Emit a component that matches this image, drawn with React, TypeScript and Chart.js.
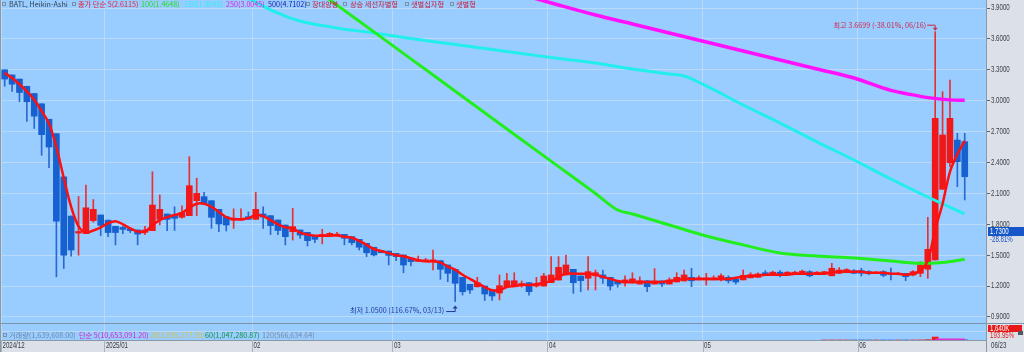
import React, { useEffect, useRef } from 'react';
import { Chart, registerables } from 'chart.js';

Chart.register(...registerables);

// ---------- trading days (categories) ----------
const decDays = [11, 12, 13, 16, 17, 18, 19, 20, 23, 24, 26, 27, 30, 31];
const janDays = [2, 3, 6, 7, 8, 10, 13, 14, 15, 16, 17, 21, 22, 23, 24, 27, 28, 29, 30, 31];
const febDays = [3, 4, 5, 6, 7, 10, 11, 12, 13, 14, 18, 19, 20, 21, 24, 25, 26, 27, 28];
const marDays = [3, 4, 5, 6, 7, 10, 11, 12, 13, 14, 17, 18, 19, 20, 21, 24, 25, 26, 27, 28, 31];
const aprDays = [1, 2, 3, 4, 7, 8, 9, 10, 11, 14, 15, 16, 17, 21, 22, 23, 24, 25, 28, 29, 30];
const mayDays = [1, 2, 5, 6, 7, 8, 9, 12, 13, 14, 15, 16, 19, 20, 21, 22, 23, 27, 28, 29, 30];
const junDays = [2, 3, 4, 5, 6, 9, 10, 11, 12, 13, 16, 17, 18, 20, 23];
const monthKeys = ['2024/12', '2025/01', '2025/02', '2025/03', '2025/04', '2025/05', '2025/06'];
const monthTickLabels = ['2024/12', '2025/01', '02', '03', '04', '05', '06'];

// ---------- Heikin-Ashi candles ----------
const haOpen = [
  3.30, 3.25, 3.21, 3.14, 3.07, 2.97, 2.82, 2.68, 2.26, 1.88,
  1.715, 1.71, 1.835, 1.89, 1.84, 1.78, 1.77, 1.757, 1.745, 1.722,
  1.738, 1.848, 1.90, 1.89, 1.868, 1.884, 2.029, 2.068, 2.029, 1.945,
  1.874, 1.84, 1.84, 1.874, 1.848, 1.90, 1.884, 1.842, 1.793, 1.728,
  1.745, 1.722, 1.686, 1.68, 1.686, 1.695, 1.702, 1.68, 1.654, 1.615,
  1.577, 1.544, 1.54, 1.518, 1.502, 1.47, 1.44, 1.44, 1.44, 1.447,
  1.405, 1.363, 1.285, 1.217, 1.194, 1.20, 1.162, 1.133, 1.194, 1.20,
  1.21, 1.233, 1.20, 1.20, 1.233, 1.259, 1.308, 1.363, 1.298, 1.276,
  1.30, 1.308, 1.285, 1.25, 1.23, 1.23, 1.22, 1.252, 1.22, 1.25,
  1.22, 1.24, 1.25, 1.285, 1.26, 1.26, 1.26, 1.26, 1.285, 1.266,
  1.26, 1.28, 1.285, 1.33, 1.32, 1.335, 1.32, 1.32, 1.32, 1.34,
  1.32, 1.325, 1.30, 1.324, 1.33, 1.35, 1.35, 1.34, 1.325, 1.34,
  1.325, 1.315, 1.324, 1.308, 1.324, 1.364, 1.453, 2.14, 2.398, 2.618,
  2.602,
];
const haHigh = [
  3.30, 3.25, 3.21, 3.14, 3.07, 2.97, 2.82, 2.68, 2.26, 1.88,
  2.07, 2.18, 2.04, 1.89, 1.84, 1.78, 1.78, 1.757, 1.745, 1.78,
  2.31, 2.084, 1.90, 1.97, 1.98, 2.457, 2.247, 2.11, 2.029, 1.945,
  1.874, 1.95, 1.95, 1.92, 2.11, 1.97, 1.884, 1.842, 1.793, 1.955,
  1.745, 1.722, 1.686, 1.751, 1.72, 1.722, 1.702, 1.68, 1.654, 1.615,
  1.577, 1.544, 1.54, 1.518, 1.502, 1.47, 1.492, 1.47, 1.55, 1.447,
  1.405, 1.363, 1.285, 1.217, 1.285, 1.20, 1.162, 1.308, 1.324, 1.33,
  1.25, 1.233, 1.285, 1.324, 1.486, 1.486, 1.502, 1.363, 1.298, 1.486,
  1.356, 1.356, 1.285, 1.25, 1.30, 1.33, 1.29, 1.252, 1.37, 1.25,
  1.28, 1.33, 1.356, 1.373, 1.30, 1.324, 1.30, 1.32, 1.30, 1.28,
  1.356, 1.33, 1.33, 1.35, 1.345, 1.35, 1.34, 1.345, 1.356, 1.35,
  1.34, 1.345, 1.421, 1.38, 1.37, 1.36, 1.373, 1.35, 1.34, 1.35,
  1.376, 1.33, 1.324, 1.35, 1.437, 1.868, 3.6699, 3.088, 3.20, 2.683,
  2.683,
];
const haLow = [
  3.14, 3.09, 2.99, 2.80, 2.73, 2.47, 2.35, 1.29, 1.37, 1.49,
  1.50, 1.71, 1.82, 1.69, 1.68, 1.60, 1.71, 1.72, 1.60, 1.70,
  1.738, 1.793, 1.738, 1.74, 1.86, 1.884, 1.884, 1.99, 1.761, 1.728,
  1.735, 1.76, 1.84, 1.848, 1.848, 1.76, 1.70, 1.70, 1.60, 1.647,
  1.664, 1.589, 1.622, 1.61, 1.68, 1.69, 1.60, 1.60, 1.55, 1.486,
  1.492, 1.524, 1.405, 1.447, 1.33, 1.395, 1.44, 1.44, 1.356, 1.266,
  1.243, 1.05, 1.113, 1.13, 1.19, 1.06, 1.06, 1.065, 1.19, 1.20,
  1.19, 1.113, 1.19, 1.20, 1.233, 1.259, 1.308, 1.13, 1.146, 1.162,
  1.162, 1.227, 1.162, 1.19, 1.20, 1.23, 1.22, 1.146, 1.22, 1.194,
  1.22, 1.24, 1.25, 1.194, 1.26, 1.21, 1.26, 1.25, 1.23, 1.22,
  1.26, 1.28, 1.285, 1.30, 1.32, 1.29, 1.32, 1.32, 1.32, 1.29,
  1.32, 1.325, 1.30, 1.324, 1.33, 1.32, 1.298, 1.31, 1.32, 1.29,
  1.259, 1.31, 1.253, 1.30, 1.292, 1.275, 1.453, 2.14, 2.36, 2.165,
  2.036,
];
const haClose = [
  3.21, 3.16, 3.08, 2.99, 2.85, 2.67, 2.55, 1.83, 1.50, 1.55,
  1.73, 1.96, 1.945, 1.79, 1.72, 1.72, 1.75, 1.738, 1.705, 1.745,
  1.987, 1.945, 1.848, 1.858, 1.913, 2.175, 2.10, 1.997, 1.868, 1.803,
  1.793, 1.86, 1.855, 1.848, 1.945, 1.87, 1.787, 1.74, 1.68, 1.777,
  1.695, 1.641, 1.654, 1.702, 1.712, 1.705, 1.664, 1.622, 1.577, 1.524,
  1.502, 1.524, 1.498, 1.486, 1.405, 1.437, 1.455, 1.455, 1.455, 1.363,
  1.324, 1.227, 1.145, 1.162, 1.233, 1.123, 1.104, 1.204, 1.252, 1.252,
  1.225, 1.146, 1.217, 1.298, 1.308, 1.382, 1.405, 1.233, 1.253, 1.34,
  1.33, 1.276, 1.20, 1.22, 1.26, 1.27, 1.252, 1.194, 1.25, 1.22,
  1.26, 1.285, 1.308, 1.252, 1.28, 1.28, 1.28, 1.30, 1.252, 1.24,
  1.305, 1.31, 1.318, 1.315, 1.335, 1.31, 1.335, 1.335, 1.345, 1.30,
  1.335, 1.34, 1.373, 1.356, 1.36, 1.324, 1.325, 1.32, 1.335, 1.305,
  1.315, 1.325, 1.291, 1.34, 1.405, 1.557, 2.829, 2.667, 2.829, 2.408,
  2.262,
];

// ---------- moving averages ----------
const ma5 = [
  3.27, 3.22, 3.16, 3.09, 3.01, 2.90, 2.78, 2.55, 2.25, 1.97,
  1.78, 1.72, 1.74, 1.77, 1.81, 1.83, 1.80, 1.76, 1.73, 1.73,
  1.79, 1.84, 1.87, 1.89, 1.91, 1.96, 2.00, 2.00, 1.97, 1.92,
  1.87, 1.85, 1.85, 1.86, 1.89, 1.88, 1.84, 1.80, 1.77, 1.76,
  1.72, 1.70, 1.69, 1.69, 1.69, 1.69, 1.68, 1.67, 1.64, 1.60,
  1.56, 1.54, 1.52, 1.50, 1.49, 1.47, 1.45, 1.44, 1.44, 1.43,
  1.39, 1.36, 1.31, 1.27, 1.23, 1.19, 1.16, 1.16, 1.19, 1.20,
  1.21, 1.21, 1.22, 1.23, 1.25, 1.29, 1.32, 1.32, 1.32, 1.32,
  1.31, 1.29, 1.27, 1.25, 1.24, 1.24, 1.24, 1.24, 1.24, 1.24,
  1.25, 1.26, 1.27, 1.27, 1.27, 1.27, 1.27, 1.27, 1.27, 1.28,
  1.29, 1.30, 1.30, 1.31, 1.31, 1.31, 1.31, 1.32, 1.32, 1.32,
  1.32, 1.32, 1.33, 1.34, 1.34, 1.34, 1.34, 1.33, 1.33, 1.33,
  1.32, 1.32, 1.31, 1.32, 1.35, 1.45, 1.75, 2.00, 2.31, 2.48,
  2.61,
];
const ma100Idx = [40, 45, 50, 55, 60, 65, 70, 75, 80, 83, 85, 90, 95, 100, 105, 110, 115, 120, 124, 127, 130];
const ma100Val = [4.19, 3.928, 3.668, 3.406, 3.145, 2.883, 2.621, 2.36, 2.099, 1.939, 1.90, 1.793, 1.686, 1.60, 1.521, 1.492, 1.473, 1.444, 1.421, 1.43, 1.46];
const ma150Idx = [30, 34, 36, 38, 40, 45, 50, 55, 60, 65, 70, 75, 80, 85, 90, 92, 95, 100, 105, 110, 115, 120, 125, 130];
const ma150Val = [4.10, 3.958, 3.881, 3.822, 3.774, 3.706, 3.657, 3.604, 3.555, 3.507, 3.458, 3.41, 3.366, 3.308, 3.259, 3.24, 3.143, 2.958, 2.783, 2.60, 2.424, 2.24, 2.065, 1.90];
const ma250Idx = [70, 75, 80, 85, 90, 95, 100, 105, 110, 115, 120, 122, 125, 128, 130];
const ma250Val = [4.03, 3.929, 3.832, 3.745, 3.657, 3.57, 3.483, 3.395, 3.308, 3.22, 3.10, 3.07, 3.03, 3.008, 3.0045];

// ---------- volume ----------
const volIdx = [111, 112, 113, 114, 115, 116, 117, 118, 119, 120, 121, 122, 123, 124, 125, 126, 127, 128, 129, 130];
const volVal = [210e3, 350e3, 220e3, 180e3, 160e3, 200e3, 150e3, 140e3, 200e3, 300e3, 170e3, 250e3, 300e3, 1.2e6, 4.1e6, 38.5e6, 7.2e6, 3.6e6, 2.3e6, 1.64e6];
const volMa5Idx = [126, 127, 128, 129, 130];
const volMa5Val = [8.87e6, 10.26e6, 10.92e6, 11.14e6, 10.65e6];

const yTicks = [0.9, 1.2, 1.5, 1.8, 2.1, 2.4, 2.7, 3.0, 3.3, 3.6, 3.9];

// ---------- styles ----------
const PLOT_BG = '#99ccff';
const AXIS_BG = '#dce1e8';
const GRID = '#bcd9f6';
const RED = '#f01818';
const BLUE = '#1660d0';
const SANS = '"Liberation Sans", "Noto Sans", sans-serif';
const KR = '"Noto Sans CJK KR", "Noto Sans", sans-serif';
const X_MIN = -0.636;
const X_MAX = 132.88;
const CONDENSE = 0.72;

const monthLens = [decDays, janDays, febDays, marDays, aprDays, mayDays, junDays].map((d) => d.length);
const monthStarts: number[] = monthLens.reduce((acc: number[], len, k) => {
  acc.push(k === 0 ? 0 : acc[k - 1] + monthLens[k - 1]);
  return acc;
}, []);
const dates: string[] = [decDays, janDays, febDays, marDays, aprDays, mayDays, junDays].flatMap((days, m) =>
  days.map((d) => `${monthKeys[m]}/${String(d).padStart(2, '0')}`)
);

const topLegend: [string, number, string][] = [
  ['BATL, Heikin-Ashi', 9, '#33424f'],
  ['종가 단순 5(2.6115)', 78, '#e8203a'],
  ['100(1.4648)', 141, '#22dd22'],
  ['150(1.9045)', 184, '#30eeee'],
  ['250(3.0045)', 226, '#e020e0'],
  ['500(4.7102)', 268, '#1818a8'],
  ['장대양봉', 312, '#c8203c'],
  ['상승 세선자별형', 350, '#c8203c'],
  ['샛별십자형', 411, '#c8203c'],
  ['샛별형', 456, '#c8203c'],
];
const topBoxes = [2, 72, 306, 343, 405, 450];
const volLegend: [string, number, string][] = [
  ['거래량(1,639,608.00)', 9, '#6a88a6'],
  ['단순 5(10,653,091.20)', 79, '#d020c0'],
  ['20(3,095,177.55)', 150, '#d4c24a'],
  ['60(1,047,280.87)', 205, '#109040'],
  ['120(566,634.64)', 262, '#7888a0'],
];

const condensedText = (
  ctx: CanvasRenderingContext2D,
  s: string,
  x: number,
  y: number,
  color: string,
  size = 8.5
) => {
  ctx.save();
  ctx.translate(x, y);
  ctx.scale(CONDENSE, 1);
  ctx.fillStyle = color;
  ctx.font = `${size}px ${SANS}`;
  ctx.textAlign = 'left';
  ctx.textBaseline = 'middle';
  ctx.fillText(s, 0, 0);
  ctx.restore();
};

const bgPlugin = {
  id: 'bgPlugin',
  beforeDraw(chart: any) {
    const { ctx, chartArea: a } = chart;
    ctx.save();
    ctx.fillStyle = AXIS_BG;
    ctx.fillRect(0, 0, chart.width, chart.height);
    ctx.fillStyle = PLOT_BG;
    ctx.fillRect(a.left, a.top, a.right - a.left, a.bottom - a.top);
    ctx.restore();
  },
};

const overlayPlugin = {
  id: 'overlayPlugin',
  afterDraw(chart: any) {
    const { ctx, chartArea: a } = chart;
    const xs = chart.scales.x;
    const ys = chart.scales.y;
    ctx.save();
    // panel separator
    ctx.strokeStyle = '#7d93ab';
    ctx.lineWidth = 1;
    ctx.beginPath();
    ctx.moveTo(0, Math.round(ys.bottom) + 0.5);
    ctx.lineTo(chart.width, Math.round(ys.bottom) + 0.5);
    ctx.stroke();
    // left border and right axis border through strip
    ctx.strokeStyle = '#8a98a8';
    ctx.beginPath();
    ctx.moveTo(0.5, 0);
    ctx.lineTo(0.5, chart.height);
    ctx.moveTo(Math.round(a.right) + 0.5, a.bottom);
    ctx.lineTo(Math.round(a.right) + 0.5, chart.height);
    ctx.stroke();
    // strip separators + month labels at x-scale ticks
    ctx.strokeStyle = '#a9b3be';
    ctx.beginPath();
    xs.ticks.forEach((t: any) => {
      const px = Math.round(xs.getPixelForValue(t.value)) + 0.5;
      ctx.moveTo(px, a.bottom);
      ctx.lineTo(px, chart.height);
    });
    ctx.stroke();
    xs.ticks.forEach((t: any, k: number) => {
      const px = xs.getPixelForValue(t.value);
      condensedText(ctx, monthTickLabels[k] ?? '', px + 1.5, 346, '#333a44');
    });
    // y-scale labels
    ys.ticks.forEach((t: any) => {
      const py = ys.getPixelForValue(t.value);
      condensedText(ctx, Number(t.value).toFixed(4), a.right + 5, py, '#3a4048');
    });

    const text = (s: string, x: number, y: number, color: string, font: string, align: CanvasTextAlign = 'left') => {
      ctx.fillStyle = color;
      ctx.font = font;
      ctx.textAlign = align;
      ctx.textBaseline = 'middle';
      ctx.fillText(s, x, y);
    };

    // top legend
    ctx.strokeStyle = '#7f8f9f';
    topBoxes.forEach((bx) => ctx.strokeRect(bx + 0.5, 2.5, 3, 3));
    topLegend.forEach(([s, x, c]) => text(s, x, 4.5, c, `7.2px ${KR}`));

    // volume legend
    ctx.strokeStyle = '#7f8f9f';
    ctx.strokeRect(3.5, 333.5, 3, 3);
    volLegend.forEach(([s, x, c]) => text(s, x, 335.5, c, `7.2px ${KR}`));

    // max annotation
    const xh = xs.getPixelForValue(126);
    const yh = ys.getPixelForValue(3.6699);
    const redA = '#d02848';
    text('최고 3.6699 (-38.01%, 06/16)', xh - 9, yh - 6.5, redA, `7.2px ${KR}`, 'right');
    ctx.strokeStyle = redA;
    ctx.fillStyle = redA;
    ctx.beginPath();
    ctx.moveTo(xh - 8, yh - 6.5);
    ctx.lineTo(xh, yh - 6.5);
    ctx.lineTo(xh, yh - 3);
    ctx.stroke();
    ctx.beginPath();
    ctx.moveTo(xh - 2.5, yh - 4);
    ctx.lineTo(xh + 2.5, yh - 4);
    ctx.lineTo(xh, yh - 1);
    ctx.closePath();
    ctx.fill();

    // min annotation
    const xl = xs.getPixelForValue(61);
    const yl = ys.getPixelForValue(1.05);
    const blueA = '#27379a';
    text('최저 1.0500 (116.67%, 03/13)', xl - 11, yl + 9, blueA, `7.2px ${KR}`, 'right');
    ctx.strokeStyle = blueA;
    ctx.fillStyle = blueA;
    ctx.beginPath();
    ctx.moveTo(xl - 9, yl + 10);
    ctx.lineTo(xl, yl + 10);
    ctx.lineTo(xl, yl + 6);
    ctx.stroke();
    ctx.beginPath();
    ctx.moveTo(xl - 2.5, yl + 7);
    ctx.lineTo(xl + 2.5, yl + 7);
    ctx.lineTo(xl, yl + 4);
    ctx.closePath();
    ctx.fill();

    // current price box
    const py = ys.getPixelForValue(1.73);
    ctx.fillStyle = '#1656c8';
    ctx.fillRect(a.right + 2, py - 4.5, chart.width - a.right - 2, 9);
    condensedText(ctx, '1.7300', a.right + 4, py, '#ffffff');
    condensedText(ctx, '-28.81%', a.right + 4, py + 8.5, '#1a4fc0');

    // volume box
    ctx.fillStyle = '#e81818';
    ctx.fillRect(a.right + 2, 325, 34, 7);
    condensedText(ctx, '1,640K', a.right + 4, 328.5, '#ffffff');
    condensedText(ctx, '193.95%', a.right + 4, 335.5, '#e02020');
    ctx.fillStyle = '#505860';
    ctx.fillRect(1018, 331, 5, 4);

    // last date
    condensedText(ctx, '06/23', a.right + 5, 346, '#333a44');
    ctx.restore();
  },
};

export default function App() {
  const ref = useRef<HTMLCanvasElement>(null);

  useEffect(() => {
    const canvas = ref.current;
    if (!canvas) return;
    const isUp = (i: number) => haClose[i] >= haOpen[i];
    const candleColors = dates.map((_, i) => (isUp(i) ? RED : BLUE));
    const wickColors = dates.map((_, i) => (isUp(i) ? '#e83030' : '#2a6ad0'));
    const volColors = volIdx.map((i) => (isUp(i) ? RED : BLUE));

    const chart = new Chart(canvas, {
      type: 'bar',
      data: {
        datasets: [
          {
            type: 'line',
            label: 'MA5',
            data: ma5.map((v, i) => ({ x: i, y: v })),
            borderColor: '#ff1010',
            borderWidth: 2.5,
            pointRadius: 0,
            tension: 0.35,
            yAxisID: 'y',
            order: 0,
          },
          {
            type: 'line',
            label: 'MA100',
            data: ma100Idx.map((x, k) => ({ x, y: ma100Val[k] })),
            borderColor: '#22ee1e',
            borderWidth: 3,
            pointRadius: 0,
            cubicInterpolationMode: 'monotone',
            yAxisID: 'y',
            order: 1,
          },
          {
            type: 'line',
            label: 'MA150',
            data: ma150Idx.map((x, k) => ({ x, y: ma150Val[k] })),
            borderColor: '#22eeee',
            borderWidth: 3,
            pointRadius: 0,
            cubicInterpolationMode: 'monotone',
            yAxisID: 'y',
            order: 1,
          },
          {
            type: 'line',
            label: 'MA250',
            data: ma250Idx.map((x, k) => ({ x, y: ma250Val[k] })),
            borderColor: '#ff10ff',
            borderWidth: 3.5,
            pointRadius: 0,
            cubicInterpolationMode: 'monotone',
            yAxisID: 'y',
            order: 1,
          },
          {
            type: 'bar',
            label: 'body',
            data: dates.map((_, i) => ({ x: i, y: [haOpen[i], haClose[i]] })) as any,
            backgroundColor: candleColors,
            borderWidth: 0,
            barThickness: 6,
            minBarLength: 1,
            grouped: false,
            yAxisID: 'y',
            order: 2,
          },
          {
            type: 'bar',
            label: 'wick',
            data: dates.map((_, i) => ({ x: i, y: [haLow[i], haHigh[i]] })) as any,
            backgroundColor: wickColors,
            borderWidth: 0,
            barThickness: 1,
            grouped: false,
            yAxisID: 'y',
            order: 3,
          },
          {
            type: 'bar',
            label: 'volume',
            data: volIdx.map((x, k) => ({ x, y: volVal[k] })) as any,
            backgroundColor: volColors,
            borderWidth: 0,
            barThickness: 6,
            grouped: false,
            yAxisID: 'yv',
            order: 3,
          },
          {
            type: 'line',
            label: 'volMA5',
            data: volMa5Idx.map((x, k) => ({ x, y: volMa5Val[k] })),
            borderColor: '#e030d0',
            borderWidth: 1.5,
            pointRadius: 0,
            yAxisID: 'yv',
            order: 0,
          },
        ] as any,
      },
      options: {
        responsive: false,
        animation: false,
        devicePixelRatio: 1,
        events: [],
        layout: { padding: 0 },
        plugins: { legend: { display: false }, tooltip: { enabled: false } },
        scales: {
          x: {
            type: 'linear',
            position: 'bottom',
            min: X_MIN,
            max: X_MAX,
            offset: false,
            afterBuildTicks: (s: any) => {
              s.ticks = monthStarts.map((i) => ({ value: i - 0.5 }));
            },
            afterFit: (s: any) => {
              s.height = 12;
            },
            ticks: { display: false, autoSkip: false },
            grid: { color: GRID, drawTicks: false, offset: false, lineWidth: 1 },
            border: { display: true, color: '#8a98a8' },
          },
          y: {
            type: 'linear',
            position: 'right',
            stack: 'panels',
            stackWeight: 19,
            min: 0.8417,
            max: 3.9777,
            afterBuildTicks: (s: any) => {
              s.ticks = yTicks.map((v) => ({ value: v }));
            },
            afterFit: (s: any) => {
              s.width = 38;
            },
            ticks: { display: false },
            grid: { color: GRID, tickColor: '#5a6470', tickLength: 4, drawTicks: true },
            border: { display: true, color: '#8a98a8' },
          },
          yv: {
            type: 'linear',
            position: 'right',
            stack: 'panels',
            stackWeight: 1,
            min: 0,
            max: 220e6,
            afterBuildTicks: (s: any) => {
              s.ticks = [{ value: 116e6 }];
            },
            afterFit: (s: any) => {
              s.width = 38;
            },
            ticks: { display: false },
            grid: { color: GRID, drawTicks: false },
            border: { display: true, color: '#8a98a8' },
          },
        },
      } as any,
      plugins: [bgPlugin, overlayPlugin],
    });
    return () => chart.destroy();
  }, []);

  return (
    <div style={{ position: 'fixed', left: 0, top: 0, width: 1024, height: 352, overflow: 'hidden' }}>
      <canvas ref={ref} width={1024} height={352} style={{ display: 'block', width: 1024, height: 352 }} />
    </div>
  );
}
